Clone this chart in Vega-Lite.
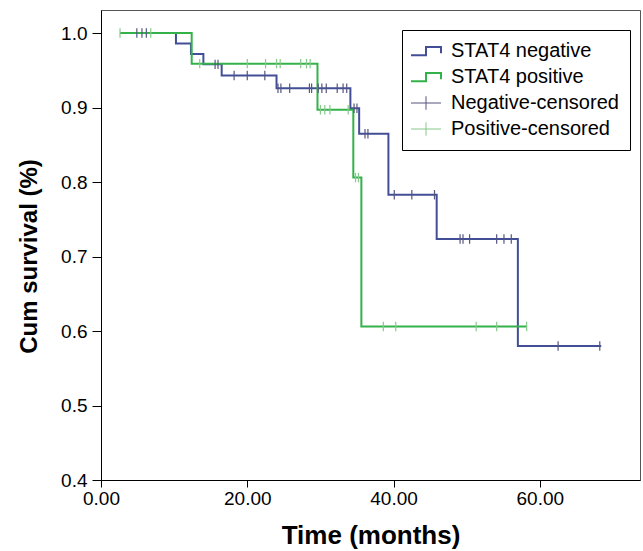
{
  "$schema": "https://vega.github.io/schema/vega-lite/v6.json",
  "autosize": "none",
  "width": 539,
  "height": 470,
  "padding": {"left": 101, "top": 10, "right": 3, "bottom": 71},
  "background": "white",
  "config": {
    "view": {"stroke": "#555555", "strokeWidth": 1},
    "font": "Liberation Sans"
  },
  "datasets": {
    "neg": [
      {"group": "STAT4 negative", "t": 2.6, "s": 1.0},
      {"group": "STAT4 negative", "t": 10.25, "s": 0.986},
      {"group": "STAT4 negative", "t": 12.3, "s": 0.972},
      {"group": "STAT4 negative", "t": 14.0, "s": 0.958},
      {"group": "STAT4 negative", "t": 16.5, "s": 0.943},
      {"group": "STAT4 negative", "t": 24.0, "s": 0.926},
      {"group": "STAT4 negative", "t": 34.1, "s": 0.899},
      {"group": "STAT4 negative", "t": 35.3, "s": 0.865},
      {"group": "STAT4 negative", "t": 39.3, "s": 0.783},
      {"group": "STAT4 negative", "t": 45.9, "s": 0.7235},
      {"group": "STAT4 negative", "t": 57.0, "s": 0.58},
      {"group": "STAT4 negative", "t": 68.4, "s": 0.58}
    ],
    "pos": [
      {"group": "STAT4 positive", "t": 2.6, "s": 1.0},
      {"group": "STAT4 positive", "t": 12.4, "s": 0.959},
      {"group": "STAT4 positive", "t": 29.6, "s": 0.897},
      {"group": "STAT4 positive", "t": 34.5, "s": 0.806},
      {"group": "STAT4 positive", "t": 35.6, "s": 0.606},
      {"group": "STAT4 positive", "t": 58.2, "s": 0.606}
    ],
    "cens": [
      {"group": "Negative-censored", "t": 4.9, "s": 1.0},
      {"group": "Negative-censored", "t": 5.6, "s": 1.0},
      {"group": "Negative-censored", "t": 6.2, "s": 1.0},
      {"group": "Negative-censored", "t": 15.6, "s": 0.958},
      {"group": "Negative-censored", "t": 16.0, "s": 0.958},
      {"group": "Negative-censored", "t": 18.2, "s": 0.943},
      {"group": "Negative-censored", "t": 20.0, "s": 0.943},
      {"group": "Negative-censored", "t": 22.4, "s": 0.943},
      {"group": "Negative-censored", "t": 24.2, "s": 0.926},
      {"group": "Negative-censored", "t": 24.6, "s": 0.926},
      {"group": "Negative-censored", "t": 25.8, "s": 0.926},
      {"group": "Negative-censored", "t": 28.5, "s": 0.926},
      {"group": "Negative-censored", "t": 28.8, "s": 0.926},
      {"group": "Negative-censored", "t": 29.7, "s": 0.926},
      {"group": "Negative-censored", "t": 30.2, "s": 0.926},
      {"group": "Negative-censored", "t": 30.8, "s": 0.926},
      {"group": "Negative-censored", "t": 32.3, "s": 0.926},
      {"group": "Negative-censored", "t": 33.1, "s": 0.926},
      {"group": "Negative-censored", "t": 33.6, "s": 0.926},
      {"group": "Negative-censored", "t": 34.6, "s": 0.899},
      {"group": "Negative-censored", "t": 35.0, "s": 0.899},
      {"group": "Negative-censored", "t": 36.1, "s": 0.865},
      {"group": "Negative-censored", "t": 36.5, "s": 0.865},
      {"group": "Negative-censored", "t": 40.1, "s": 0.783},
      {"group": "Negative-censored", "t": 42.5, "s": 0.783},
      {"group": "Negative-censored", "t": 45.6, "s": 0.783},
      {"group": "Negative-censored", "t": 49.1, "s": 0.7235},
      {"group": "Negative-censored", "t": 49.5, "s": 0.7235},
      {"group": "Negative-censored", "t": 50.4, "s": 0.7235},
      {"group": "Negative-censored", "t": 54.1, "s": 0.7235},
      {"group": "Negative-censored", "t": 55.1, "s": 0.7235},
      {"group": "Negative-censored", "t": 56.1, "s": 0.7235},
      {"group": "Negative-censored", "t": 62.5, "s": 0.58},
      {"group": "Negative-censored", "t": 68.2, "s": 0.58},
      {"group": "Positive-censored", "t": 2.6, "s": 1.0},
      {"group": "Positive-censored", "t": 6.8, "s": 1.0},
      {"group": "Positive-censored", "t": 13.5, "s": 0.959},
      {"group": "Positive-censored", "t": 20.0, "s": 0.959},
      {"group": "Positive-censored", "t": 22.5, "s": 0.959},
      {"group": "Positive-censored", "t": 24.0, "s": 0.959},
      {"group": "Positive-censored", "t": 24.5, "s": 0.959},
      {"group": "Positive-censored", "t": 27.3, "s": 0.959},
      {"group": "Positive-censored", "t": 28.1, "s": 0.959},
      {"group": "Positive-censored", "t": 28.6, "s": 0.959},
      {"group": "Positive-censored", "t": 30.0, "s": 0.897},
      {"group": "Positive-censored", "t": 30.6, "s": 0.897},
      {"group": "Positive-censored", "t": 31.3, "s": 0.897},
      {"group": "Positive-censored", "t": 33.8, "s": 0.897},
      {"group": "Positive-censored", "t": 34.8, "s": 0.806},
      {"group": "Positive-censored", "t": 35.2, "s": 0.806},
      {"group": "Positive-censored", "t": 38.6, "s": 0.606},
      {"group": "Positive-censored", "t": 40.3, "s": 0.606},
      {"group": "Positive-censored", "t": 51.3, "s": 0.606},
      {"group": "Positive-censored", "t": 54.1, "s": 0.606},
      {"group": "Positive-censored", "t": 58.2, "s": 0.606}
    ]
  },
  "encoding": {
    "x": {
      "field": "t", "type": "quantitative",
      "scale": {"domain": [0, 73.7], "nice": false, "zero": false},
      "axis": {
        "title": "Time (months)", "values": [0, 20, 40, 60], "format": ".2f",
        "grid": false, "domainColor": "#000000", "tickColor": "#000000",
        "tickSize": 7, "labelPadding": 2, "labelFontSize": 19, "labelColor": "#000000",
        "labelFont": "Liberation Sans", "titleFont": "Liberation Sans",
        "titleFontSize": 26, "titleFontWeight": "bold", "titleColor": "#000000",
        "titlePadding": 14, "labelFlush": false
      }
    },
    "y": {
      "field": "s", "type": "quantitative",
      "scale": {"domain": [0.4, 1.031], "nice": false, "zero": false},
      "axis": {
        "title": "Cum survival (%)", "values": [0.4, 0.5, 0.6, 0.7, 0.8, 0.9, 1.0], "format": ".1f",
        "grid": false, "domainColor": "#000000", "tickColor": "#000000",
        "tickSize": 9, "labelPadding": 5, "labelFontSize": 19, "labelColor": "#000000",
        "labelFont": "Liberation Sans", "titleFont": "Liberation Sans",
        "titleFontSize": 24, "titleFontWeight": "bold", "titleColor": "#000000",
        "titlePadding": 19, "titleY": 246, "labelFlush": false
      }
    },
    "color": {
      "field": "group", "type": "nominal",
      "scale": {
        "domain": ["STAT4 negative", "STAT4 positive", "Negative-censored", "Positive-censored"],
        "range": ["#424f96", "#34b24a", "#55557f", "#86c98a"]
      },
      "legend": {
        "title": null, "orient": "none", "legendX": 301, "legendY": 20,
        "strokeColor": "#000000", "fillColor": "#ffffff", "padding": 11,
        "labelFontSize": 20, "labelFont": "Liberation Sans", "labelColor": "#000000",
        "labelLimit": 400,
        "symbolSize": 225, "rowPadding": 6, "labelOffset": 15, "symbolOffset": 3,
        "encode": {
          "symbols": {
            "update": {
              "shape": {"signal": "(datum.value == 'STAT4 negative' || datum.value == 'STAT4 positive') ? 'M-2,0.55L0,0.55L0,-0.55L2,-0.55L2,0.3' : 'M-2,0L2,0M0,-0.9L0,0.9'"},
              "fill": {"value": "transparent"},
              "strokeWidth": {"signal": "(datum.value == 'STAT4 negative' || datum.value == 'STAT4 positive') ? 2 : 1"}
            }
          }
        }
      }
    }
  },
  "layer": [
    {
      "data": {"name": "neg"},
      "mark": {"type": "line", "interpolate": "step-after", "strokeWidth": 2}
    },
    {
      "data": {"name": "pos"},
      "mark": {"type": "line", "interpolate": "step-after", "strokeWidth": 2}
    },
    {
      "data": {"name": "cens"},
      "mark": {"type": "point", "shape": "M0,-1L0,1", "filled": false, "size": 90, "strokeWidth": 1.2, "opacity": 1}
    }
  ]
}
